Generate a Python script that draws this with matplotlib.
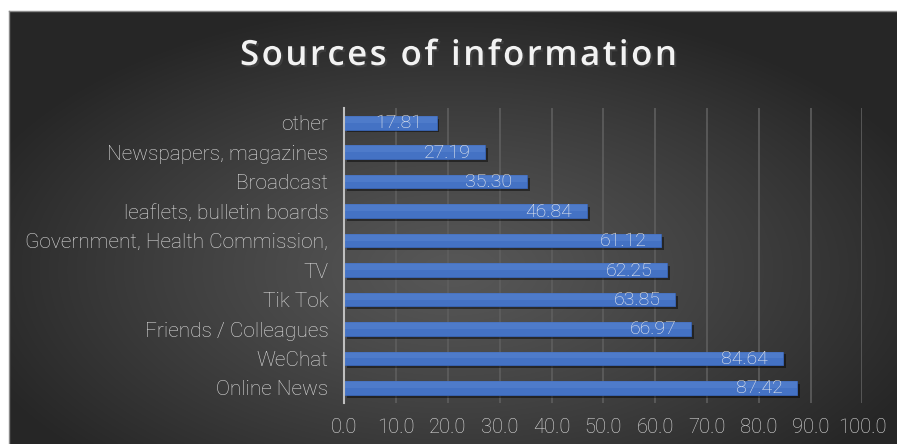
import numpy as np
import matplotlib
matplotlib.use("Agg")
import matplotlib.pyplot as plt
import matplotlib.patheffects as pe

categories = ["Online News", "WeChat", "Friends / Colleagues", "Tik Tok", "TV",
              "Government, Health Commission,", "leaflets, bulletin boards",
              "Broadcast", "Newspapers, magazines", "other"]
values = [87.42, 84.64, 66.97, 63.85, 62.25, 61.12, 46.84, 35.30, 27.19, 17.81]
xticks = [0, 10, 20, 30, 40, 50, 60, 70, 80, 90, 100]
title = "Sources of information"

W, H = 897, 444
fig = plt.figure(figsize=(W / 100, H / 100), dpi=100)
fig.patch.set_facecolor("white")

# background panel with radial gradient
bx0, by0 = 9 / W, 0.0
bw, bh = 1 - bx0, 1 - 11 / H
bg = fig.add_axes([bx0, by0, bw, bh])
bg.set_axis_off()
nx, ny = 400, 200
xx, yy = np.meshgrid(np.linspace(-1, 1, nx), np.linspace(-1, 1, ny))
cx, cy = 0.0, -0.2
r = np.sqrt(((xx - cx) / 1.15) ** 2 + ((yy - cy) / 1.25) ** 2)
r = np.clip(r, 0, 1)
inner, outer = 0.34, 0.15
val = outer + (inner - outer) * (1 - r ** 1.2)
img = np.dstack([val, val, val])
bg.imshow(img, extent=[0, 1, 0, 1], aspect="auto", origin="lower", interpolation="bilinear")
bg.set_xlim(0, 1)
bg.set_ylim(0, 1)
fig.add_artist(plt.Line2D([bx0, 1], [by0 + bh, by0 + bh], color="#8a8a8a", lw=1.0, transform=fig.transFigure))
fig.add_artist(plt.Line2D([bx0, bx0], [0, by0 + bh], color="#8a8a8a", lw=1.0, transform=fig.transFigure))

font = "Roboto"
txtcol = "#dedede"

ax = fig.add_axes([344.3 / W, 1 - 402.7 / H, (862.3 - 344.3) / W, (402.7 - 108) / H])
ax.set_facecolor("none")
y = np.arange(len(categories))
bars = ax.barh(y, values, height=0.46, color="#4472c4", edgecolor="#3a66b8", linewidth=0.6, zorder=3)
for b in bars:
    b.set_path_effects([pe.SimplePatchShadow(offset=(2.0, -2.0), shadow_rgbFace="black", alpha=0.45), pe.Normal()])
# lighter upper half highlight
ax.barh(y + 0.46 / 4, values, height=0.46 / 2, color="#5b86d3", alpha=0.45, linewidth=0, zorder=3.5)
for yi, v in zip(y, values):
    ax.annotate(f"{v:.2f}", xy=(v, yi), xytext=(-10.5, -0.3), textcoords="offset points",
                ha="right", va="center", color="#f0f0f0", fontsize=14, family=font,
                fontweight="light", zorder=4)

ax.set_xlim(0, 100)
ax.set_ylim(-0.5, len(categories) - 0.5)
ax.set_xticks(xticks)
ax.set_xticklabels([f"{t:.1f}" for t in xticks])
ax.set_yticks(y)
ax.set_yticklabels(categories)
ax.tick_params(axis="both", length=0, colors=txtcol)
ax.tick_params(axis="x", pad=11, labelsize=14.5)
ax.tick_params(axis="y", pad=11.5, labelsize=15)
for lab in ax.get_xticklabels() + ax.get_yticklabels():
    lab.set_family(font)
    lab.set_fontweight("light")
ax.grid(axis="x", color="#5e5e5e", lw=1.2, zorder=0)
for s in ["top", "right", "bottom"]:
    ax.spines[s].set_visible(False)
ax.spines["left"].set_color("#bfbfbf")
ax.spines["left"].set_linewidth(1.5)
ax.spines["left"].set_zorder(5)

# title with letter tracking
tkw = dict(fontsize=25, family="Open Sans", fontweight="semibold", color="#f2f2f2")
renderer = fig.canvas.get_renderer()
def _w(s):
    t = fig.text(0, 0, s, **tkw)
    w = t.get_window_extent(renderer).width
    t.remove()
    return w
base = _w("||")
widths = [_w("|" + ch + "|") - base for ch in title]
target = 677 - 240
track = (target - sum(widths)) / (len(title) - 1)
xpos = 240.0
for ch, w in zip(title, widths):
    if ch != " ":
        fig.text(xpos / W, 1 - 56 / H, ch, ha="left", va="center", **tkw,
                 path_effects=[pe.SimplePatchShadow(offset=(1.5, -1.5), alpha=0.6), pe.Normal()])
    xpos += w + track

fig.savefig("out.png", dpi=100, facecolor="white")
